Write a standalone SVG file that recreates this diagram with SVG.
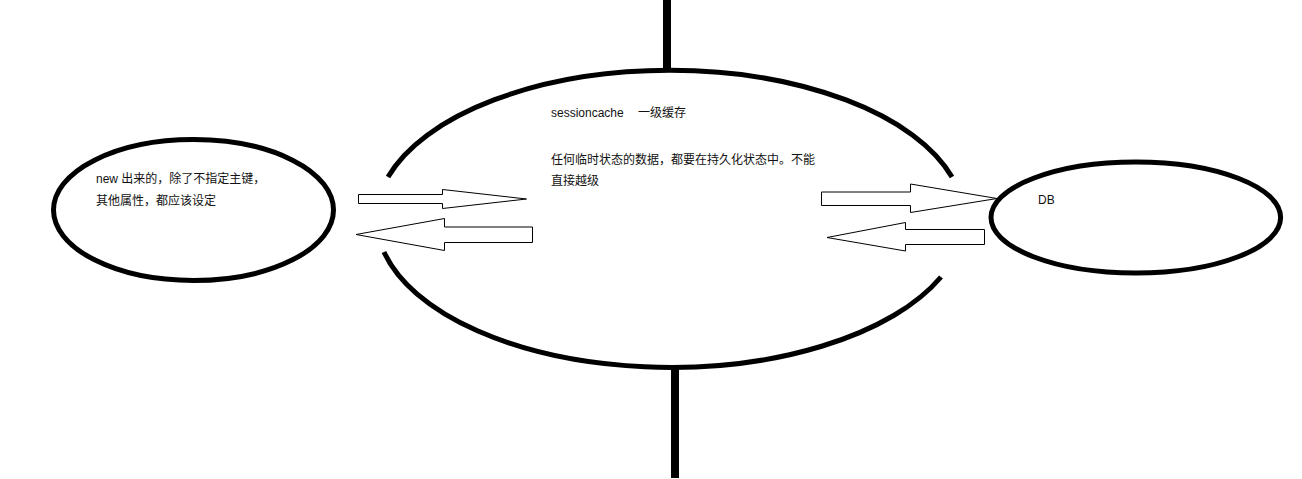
<svg xmlns="http://www.w3.org/2000/svg" width="1302" height="479" viewBox="0 0 1302 479">
<style>
  .ell { fill: none; stroke: #000; stroke-width: 5; }
  .bar { stroke: #000; stroke-width: 8; fill: none; }
  .arrow { fill: #fff; stroke: #000; stroke-width: 1; stroke-linejoin: miter; }
  .t { font-family: "Liberation Sans", "Noto Sans CJK SC", sans-serif; font-size: 12px; fill: #111; }
</style>
<rect x="0" y="0" width="1302" height="479" fill="#fff"/>
<g id="session-cache">
  <path class="ell" d="M388,177 A294,148.7 0 0 1 952,177"/>
  <path class="ell" d="M941,277 A294,148.7 0 0 1 384,252"/>
  <text class="t" x="551" y="117">sessioncache</text>
  <text class="t" x="638" y="117">一级缓存</text>
  <text class="t" x="551" y="163.5">任何临时状态的数据，都要在持久化状态中。不能</text>
  <text class="t" x="551" y="184.5">直接越级</text>
</g>
<g id="transient">
  <ellipse class="ell" cx="193.5" cy="210" rx="140" ry="70.5"/>
  <text class="t" x="96" y="182.5">new 出来的，除了不指定主键，</text>
  <text class="t" x="96" y="205">其他属性，都应该设定</text>
</g>
<g id="db">
  <ellipse class="ell" cx="1135.8" cy="217.5" rx="144.8" ry="55.5"/>
  <text class="t" x="1038" y="204">DB</text>
</g>
<g id="axis">
  <line class="bar" x1="667" y1="0" x2="667" y2="71"/>
  <line class="bar" x1="675" y1="368" x2="675" y2="478"/>
</g>
<g id="connectors">
  <polygon class="arrow" points="358.5,194.5 442.5,194.5 442.5,189.5 526.5,199 442.5,208.5 442.5,203.5 358.5,203.5"/>
  <polygon class="arrow" points="356,234.5 444.5,218.5 444.5,227 532.5,227 532.5,242.5 444.5,242.5 444.5,250.5"/>
  <polygon class="arrow" points="821.5,192 910.5,192 910.5,184 997,198.5 910.5,212.5 910.5,205.5 821.5,205.5"/>
  <polygon class="arrow" points="827,237.5 905.5,222.5 905.5,229.5 984.5,229.5 984.5,244.5 905.5,244.5 905.5,251"/>
</g>
</svg>
